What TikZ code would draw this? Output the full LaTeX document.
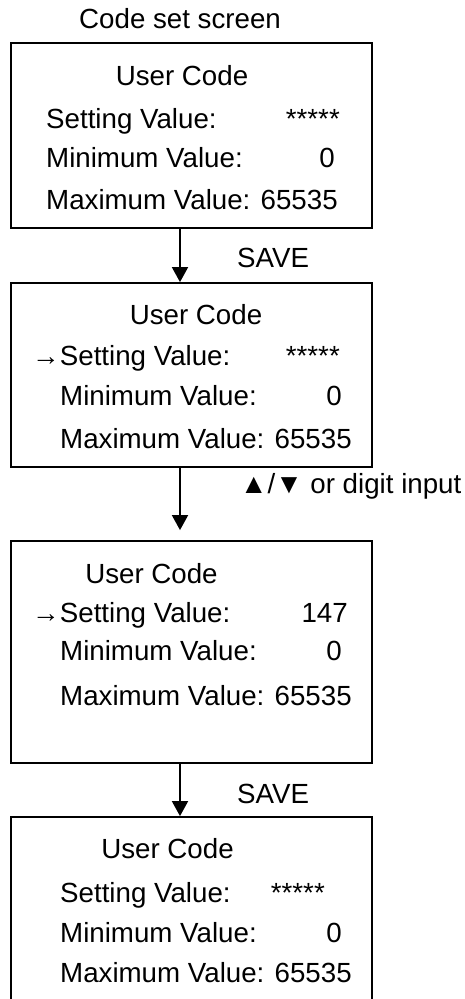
\documentclass[tikz,border=0pt]{standalone}
\usepackage{fontspec}
\setmainfont{Liberation Sans}
\usetikzlibrary{arrows.meta,positioning}

\tikzset{
	screen/.style={draw,line width=1.8pt,minimum width=361pt,inner sep=0pt},
	txt/.style={inner sep=0pt,anchor=base west},
	val/.style={inner sep=0pt,anchor=base east},
	head/.style={inner sep=0pt,anchor=base},
	flow/.style={line width=1.8pt,-{Triangle[width=16pt,length=15pt]}},
}

\begin{document}
\begin{tikzpicture}[x=1pt,y=-1pt,font=\fontsize{27.7}{33}\selectfont]
			\useasboundingbox (0,0) rectangle (465,999);
			% title
			\node[txt] (title) at (79,28) {Code set screen};
			% screens
			\node[screen,minimum height=185pt] (s1) at (191.5,135.5) {};
			\node[screen,minimum height=184pt] (s2) at (191.5,375) {};
			\node[screen,minimum height=222pt] (s3) at (191.5,652) {};
			\node[screen,minimum height=200pt] (s4) at (191.5,917) {};
			% headings
			\node[head] (h1) at (182,85) {User Code};
			\node[head] (h2) at (196,324) {User Code};
			\node[head] (h3) at (151.5,583) {User Code};
			\node[head] (h4) at (167.5,858) {User Code};
			% setting values
			\node[txt] (set1) at (46,128) {Setting Value:};
			\node[val] (v1) at (340,128) {*****};
			\node[txt] (set2) at (32,365) {→Setting Value:};
			\node[val] (v2) at (340,365) {*****};
			\node[txt] (set3) at (32,622) {→Setting Value:};
			\node[val] (v3) at (348,622) {147};
			\node[txt] (set4) at (60,902) {Setting Value:};
			\node[val] (v4) at (325,902) {*****};
			% minimum and maximum rows
			\node[txt] (min1) at (46,167) {Minimum Value:};
			\node[val] (z1) at (335,167) {0};
			\node[txt] (max1) at (46,209) {Maximum Value: 65535};
			\foreach \i/\y in {2/405,3/660,4/942} {
				\node[txt] (min\i) at (60,\y) {Minimum Value:};
				\node[val] (z\i) at (342,\y) {0};
			}
			\foreach \i/\y in {2/448,3/705,4/982} {
				\node[txt] (max\i) at (60,\y) {Maximum Value: 65535};
			}
			% transitions
			\draw[flow] ([xshift=-11.5pt]s1.south) -- ([xshift=-11.5pt]s2.north);
			\draw[flow] ([xshift=-11.5pt]s2.south) -- ([xshift=-11.5pt,yshift=10pt]s3.north);
			\draw[flow] ([xshift=-11.5pt]s3.south) -- ([xshift=-11.5pt]s4.north);
			\node[txt] (save1) at (237,267) {SAVE};
			\node[txt] (keys) at (240,493) {▲/▼ or digit input};
			\node[txt] (save2) at (237,803) {SAVE};
		\end{tikzpicture}
\end{document}
